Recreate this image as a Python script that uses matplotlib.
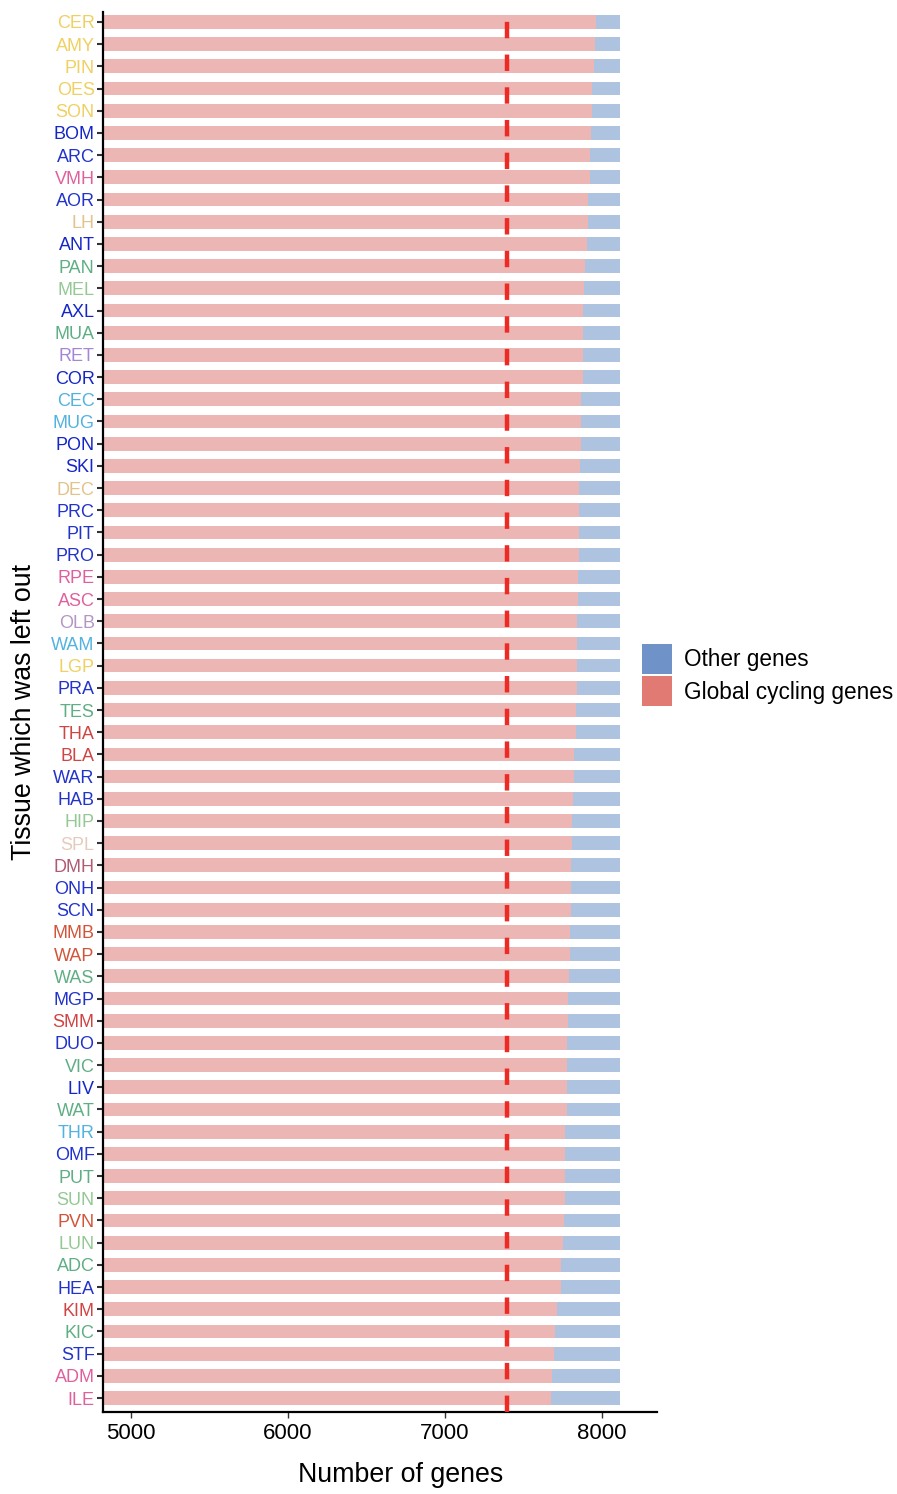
import matplotlib.pyplot as plt
import numpy as np
from matplotlib.patches import Patch

plt.rcParams['font.family'] = ['Liberation Sans', 'DejaVu Sans']
plt.rcParams['lines.scale_dashes'] = False

# tissues, top to bottom
tissues = ['CER', 'AMY', 'PIN', 'OES', 'SON', 'BOM', 'ARC', 'VMH', 'AOR', 'LH',
           'ANT', 'PAN', 'MEL', 'AXL', 'MUA', 'RET', 'COR', 'CEC', 'MUG', 'PON',
           'SKI', 'DEC', 'PRC', 'PIT', 'PRO', 'RPE', 'ASC', 'OLB', 'WAM', 'LGP',
           'PRA', 'TES', 'THA', 'BLA', 'WAR', 'HAB', 'HIP', 'SPL', 'DMH', 'ONH',
           'SCN', 'MMB', 'WAP', 'WAS', 'MGP', 'SMM', 'DUO', 'VIC', 'LIV', 'WAT',
           'THR', 'OMF', 'PUT', 'SUN', 'PVN', 'LUN', 'ADC', 'HEA', 'KIM', 'KIC',
           'STF', 'ADM', 'ILE']

# global cycling genes when each tissue is left out
cycling = [7960, 7955, 7950, 7936, 7936, 7930, 7923, 7923, 7911, 7911,
           7904, 7889, 7885, 7879, 7879, 7879, 7878, 7866, 7866, 7863,
           7860, 7854, 7854, 7854, 7851, 7847, 7844, 7841, 7841, 7840,
           7838, 7837, 7835, 7820, 7820, 7818, 7811, 7811, 7803, 7803,
           7802, 7798, 7794, 7791, 7783, 7783, 7780, 7779, 7779, 7775,
           7766, 7766, 7766, 7765, 7758, 7754, 7739, 7738, 7711, 7698,
           7697, 7683, 7675]

total_genes = 8117
threshold = 7395

blue = '#2233cc'; dblue = '#1426c8'; yellow = '#f0d060'; pink = '#e0609e'
tan = '#e2c48a'; green = '#5fae84'; lgreen = '#94c894'; lblue = '#52b2e0'
red = '#d04444'; orange = '#d2553a'
label_colors = [yellow, yellow, yellow, yellow, yellow, dblue, blue, pink, blue, tan,
                dblue, green, lgreen, dblue, green, '#a486d6', dblue, lblue, lblue, dblue,
                dblue, tan, blue, blue, blue, pink, pink, '#b496c4', lblue, yellow,
                blue, green, red, red, blue, blue, lgreen, '#e4cbbd', '#b05a74', blue,
                blue, orange, orange, green, blue, red, blue, green, dblue, green,
                lblue, blue, green, lgreen, orange, lgreen, green, blue, red, green,
                blue, pink, pink]

cycling = np.array(cycling)
other = total_genes - cycling
y = np.arange(len(tissues))[::-1]

fig = plt.figure(figsize=(8.97, 14.94), dpi=100)
ax = fig.add_axes([103/897, 82/1494, 554/897, 1400/1494])

ax.barh(y, cycling, left=0, height=0.62, color='#ebb6b3', zorder=2)
ax.barh(y, other, left=cycling, height=0.62, color='#adc3e0', zorder=2)
ax.axvline(threshold, color='#ee2a24', lw=3.2, dashes=(11.8, 11.75), zorder=3)

ax.set_xlim(4822, 8350)
ax.set_ylim(-0.63, 62.45)
ax.set_xticks([5000, 6000, 7000, 8000])
ax.set_yticks(y)
ax.set_yticklabels(tissues, fontsize=13)
for lab, c in zip(ax.get_yticklabels(), label_colors):
    lab.set_color(c)
ax.tick_params(axis='x', labelsize=16, length=4, width=1, color='#333333', pad=4)
ax.tick_params(axis='y', length=4, width=1.5, color='#333333', pad=2)

for s in ['top', 'right']:
    ax.spines[s].set_visible(False)
for s in ['left', 'bottom']:
    ax.spines[s].set_linewidth(1.6)

ax.set_xlabel('Number of genes', fontsize=19.3)
ax.xaxis.set_label_coords(0.538, -0.036)
ax.set_ylabel('Tissue which was left out', fontsize=19.3)
ax.yaxis.set_label_coords(-0.12, 0.5)

handles = [Patch(facecolor='#6f93c8', edgecolor='none', label='Other genes'),
           Patch(facecolor='#e07a73', edgecolor='none', label='Global cycling genes')]
fig.legend(handles=handles, loc='center left', bbox_to_anchor=(0.693, 1 - 675/1494),
           frameon=False, fontsize=16.3, handlelength=1.32, handleheight=1.66,
           handletextpad=0.55, labelspacing=0.12)

fig.savefig('out.png', dpi=100)
